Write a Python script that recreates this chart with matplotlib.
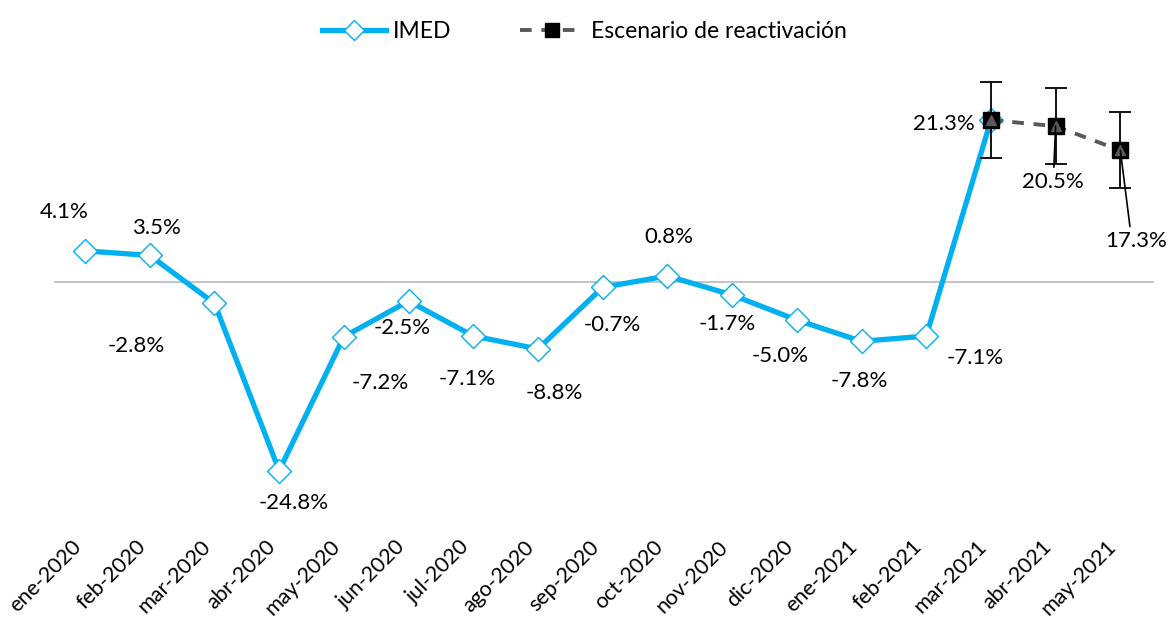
import numpy as np
import matplotlib.pyplot as plt
from matplotlib.lines import Line2D

plt.rcParams['font.family'] = ['Lato', 'DejaVu Sans']

meses = ['ene-2020', 'feb-2020', 'mar-2020', 'abr-2020', 'may-2020', 'jun-2020',
         'jul-2020', 'ago-2020', 'sep-2020', 'oct-2020', 'nov-2020', 'dic-2020',
         'ene-2021', 'feb-2021', 'mar-2021', 'abr-2021', 'may-2021']
imed = [4.1, 3.5, -2.8, -24.8, -7.2, -2.5, -7.1, -8.8, -0.7, 0.8, -1.7, -5.0,
        -7.8, -7.1, 21.3]
escenario = [21.3, 20.5, 17.3]
error = [5.0, 5.0, 5.0]

# label offsets in pixels (dx, dy) from each point
off_imed = [(-21, 39), (7, 27), (-78, -43), (15, -32), (36, -46), (-6, -27),
            (-6, -43), (16, -44), (10, -38), (1, 39), (-5, -29), (-17, -36),
            (-2, -40), (49, -22), (-47, -4)]
off_esc = [(-3, -56), (16, -91)]

cyan = '#00B0F0'
gris = '#595959'

fig = plt.figure(figsize=(11.69, 6.23), dpi=100)
ax = fig.add_axes([54 / 1169, 1 - 520 / 623, 1100 / 1169, 460 / 623])

x = np.arange(len(meses))
xi = x[:len(imed)]
xe = x[len(imed) - 1:]

ax.axhline(0, color='#BFBFBF', lw=1.3, zorder=1)

ax.plot(xi, imed, color=cyan, lw=3.8, marker='D', ms=12, mfc='white',
        mec=cyan, mew=1.0, zorder=3)
ax.errorbar(xe, escenario, yerr=error, fmt='none', ecolor='black', elinewidth=1.3,
            capsize=8, capthick=1.3, zorder=4)
ax.plot(xe, escenario, color=gris, lw=2.8, ls=(0, (3, 2.5)), marker='s', ms=12,
        mfc='black', mec='black', zorder=5)
ax.plot(xe, escenario, ls='none', marker='^', ms=7, mfc=gris, mec=gris, zorder=6)

k = 0.72  # px -> points
for xv, yv, (dx, dy) in zip(xi, imed, off_imed):
    ax.annotate(f'{yv:.1f}%', (xv, yv), xytext=(dx * k, dy * k),
                textcoords='offset points', ha='center', va='center', fontsize=16)
for xv, yv, (dx, dy) in zip(xe[1:], escenario[1:], off_esc):
    ax.annotate(f'{yv:.1f}%', (xv, yv), xytext=(dx * k, dy * k),
                textcoords='offset points', ha='center', va='center', fontsize=16)
    ax.annotate('', (xv, yv), xytext=(dx * k * 0.6, (dy + 15) * k),
                textcoords='offset points',
                arrowprops=dict(arrowstyle='-', color='black', lw=1.2,
                                shrinkA=0, shrinkB=0), zorder=7)

ax.set_xlim(-0.48, 16.52)
ax.set_ylim(-31.3, 29.2)
ax.set_xticks(x)
ax.set_xticklabels(meses, rotation=45, ha='right', fontsize=15.5)
ax.tick_params(axis='x', length=0, pad=12)
ax.set_yticks([])
for s in ax.spines.values():
    s.set_visible(False)

handles = [
    Line2D([], [], color=cyan, lw=3.8, marker='D', ms=10, mfc='white', mec=cyan),
    Line2D([], [], color=gris, lw=2.8, ls=(0, (3, 2.5)), marker='s', ms=10,
           mfc='black', mec='black'),
]
fig.legend(handles, ['IMED', 'Escenario de reactivación'], loc='upper center',
           bbox_to_anchor=(0.5, 1.0), ncol=2, frameon=False, fontsize=16.5,
           handlelength=2.8, handletextpad=0.3, columnspacing=3)

fig.savefig('out.png', dpi=100)
